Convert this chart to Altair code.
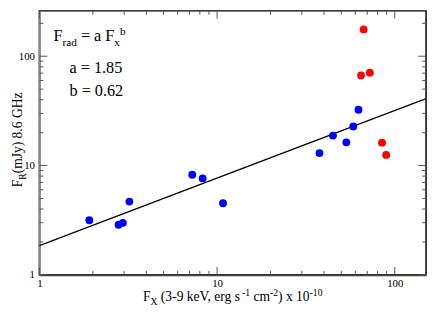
import altair as alt
import pandas as pd

# ---- data ----
blue_x = [1.91, 2.79, 2.95, 3.21, 7.25, 8.3, 10.8, 37.7, 44.9, 53.4, 58.4, 62.5]
blue_y = [3.16, 2.87, 2.99, 4.68, 8.24, 7.63, 4.52, 13.0, 18.8, 16.3, 22.8, 32.4]
red_x = [66.8, 64.6, 72.4, 84.8, 89.5]
red_y = [176.0, 66.8, 70.7, 16.2, 12.5]
fit_x = [1.0, 150.0]
fit_y = [1.85, 41.0]

x_major = [1, 10, 100]
x_minor = [2, 3, 4, 5, 6, 7, 8, 9, 20, 30, 40, 50, 60, 70, 80, 90]
y_major = [1, 10, 100]
y_minor = [2, 3, 4, 5, 6, 7, 8, 9, 20, 30, 40, 50, 60, 70, 80, 90, 200]
x_domain = [1, 150]
y_domain = [1, 260]

W, H = 394, 269
SERIF = "'Liberation Serif', 'Times New Roman', serif"

xscale = alt.Scale(type="log", domain=x_domain, nice=False)
yscale = alt.Scale(type="log", domain=y_domain, nice=False)
xaxis = alt.Axis(title="", values=x_major, format="d", grid=False, ticks=False, tickSize=0,
                 domainColor="#444", domainWidth=2, labelFont=SERIF, labelFontSize=11,
                 labelColor="#000", labelPadding=3, labelFlush=False)
yaxis = alt.Axis(title="", values=y_major, format="d", grid=False, ticks=False, tickSize=0,
                 domainColor="#888", domainWidth=2, labelFont=SERIF, labelFontSize=11,
                 labelColor="#000", labelPadding=5, labelFlush=False)


def X(f):
    return alt.X(f, type="quantitative", scale=xscale, axis=xaxis)


def Y(f):
    return alt.Y(f, type="quantitative", scale=yscale, axis=yaxis)


blue = pd.DataFrame({"x": blue_x, "y": blue_y})
red = pd.DataFrame({"x": red_x, "y": red_y})
fit = pd.DataFrame({"x": fit_x, "y": fit_y})

layers = []
layers.append(alt.Chart(fit).mark_line(color="black", strokeWidth=1.3).encode(x=X("x"), y=Y("y")))
layers.append(alt.Chart(blue).mark_circle(size=64, color="#0000ff", opacity=1).encode(x=X("x"), y=Y("y")))
layers.append(alt.Chart(red).mark_circle(size=64, color="#ff0000", opacity=1).encode(x=X("x"), y=Y("y")))

TICK = "#555"
for vals, ln in ((x_major, 8), (x_minor, 4)):
    d = pd.DataFrame({"t": vals})
    layers.append(alt.Chart(d).mark_rule(color=TICK, strokeWidth=1).encode(
        x=X("t"), y=alt.value(H), y2=alt.value(H - ln)))
    layers.append(alt.Chart(d).mark_rule(color=TICK, strokeWidth=1).encode(
        x=X("t"), y=alt.value(0), y2=alt.value(ln)))
for vals, ln in ((y_major, 8), (y_minor, 4)):
    d = pd.DataFrame({"t": vals})
    layers.append(alt.Chart(d).mark_rule(color=TICK, strokeWidth=1).encode(
        y=Y("t"), x=alt.value(0), x2=alt.value(ln)))
    layers.append(alt.Chart(d).mark_rule(color=TICK, strokeWidth=1).encode(
        y=Y("t"), x=alt.value(W), x2=alt.value(W - ln)))

# ---- rich text (sub/superscripts); Vega trims spaces, so they are turned into offsets ----
TIMES = {' ': 250, '(': 333, ')': 333, '-': 333, '.': 250, ',': 250, '=': 564,
         'F': 556, 'X': 722, 'R': 667, 'G': 722, 'H': 722, 'J': 389, 'V': 722,
         'a': 444, 'b': 500, 'c': 444, 'd': 500, 'e': 444, 'g': 500, 'k': 500,
         'm': 778, 'r': 333, 's': 389, 'x': 500, 'y': 500, 'z': 444}


def tw(s, size):
    return sum(TIMES.get(c, 500) for c in s) * size / 1000.0


one = alt.Data(values=[{"a": 1}])


def rich(segs, x0, y0, rotate=False, center=False):
    total = sum(tw(t, s) for t, s, _ in segs)
    cum = -total / 2 if center else 0.0
    out = []
    for t, s, dy in segs:
        lead = len(t) - len(t.lstrip(" "))
        off = cum + tw(t[:lead], s)
        if rotate:
            px, py, ang = x0 + dy, y0 - off, 270
        else:
            px, py, ang = x0 + off, y0 + dy, 0
        out.append(alt.Chart(one).mark_text(text=t.strip(" "), font=SERIF, fontSize=s, align="left",
                                            baseline="alphabetic", angle=ang, color="black")
                   .encode(x=alt.value(px), y=alt.value(py)))
        cum += tw(t, s)
    return out


M, S = 13.8, 9.8
layers += rich([("F", M, 0), ("X", S, 4), (" (3-9 keV, erg s", M, 0), ("-1", S, -5),
                (" cm", M, 0), ("-2", S, -5), (") x 10", M, 0), ("-10", S, -5)],
               W / 2, 296, center=True)
layers += rich([("F", M, 0), ("R", S, 4), ("(mJy) 8.6 GHz", M, 0)],
               -18, 131.5, rotate=True, center=True)

A, B = 16.5, 11.5
layers += rich([("F", A, 0), ("rad", B, 5), (" = a F", A, 0), ("x", B, 5), ("b", B, -6)], 14.3, 31)
layers += rich([("a = 1.85", A, 0)], 30.7, 63)
layers += rich([("b = 0.62", A, 0)], 30.7, 86.3)

chart = alt.layer(*layers).properties(
    width=W, height=H,
    autosize=alt.AutoSizeParams(type="none"),
    padding={"left": 32, "top": 0, "right": 2, "bottom": 38},
).configure_view(stroke="black", strokeWidth=1.5)

chart.save("out.html", embed_options={"renderer": "svg", "actions": False})
